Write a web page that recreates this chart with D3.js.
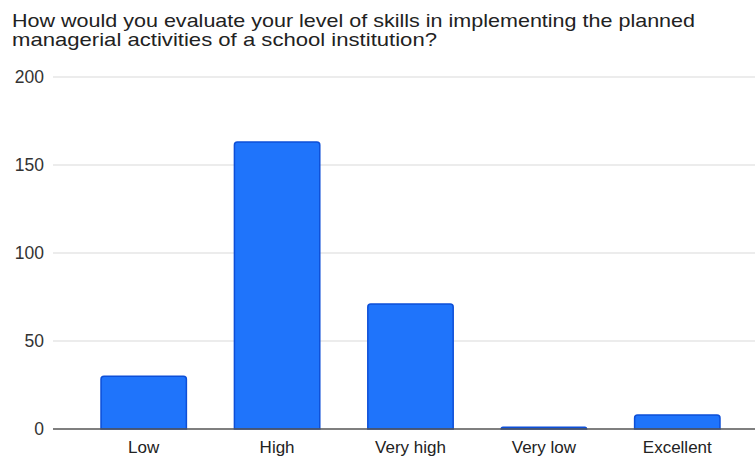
<!DOCTYPE html>
<html>
<head>
<meta charset="utf-8">
<script src="https://cdn.jsdelivr.net/npm/d3@7"></script>
<style>
  body { margin: 0; background: #fff; }
  text { font-family: "Liberation Sans", Arial, sans-serif; }
</style>
</head>
<body>
<script>
const categories = ["Low", "High", "Very high", "Very low", "Excellent"];
const counts = [30, 163, 71, 1, 8];
const yTicks = [0, 50, 100, 150, 200];
const titleLines = [
  "How would you evaluate your level of skills in implementing the planned",
  "managerial activities of a school institution?"
];
const titleWidths = [683, 425];

const w = 755, h = 460;
const svg = d3.select("body").append("svg")
  .attr("width", w)
  .attr("height", h);

// Title (stretched a little to match the source's wide lettering)
svg.append("g").selectAll("text")
  .data(titleLines)
  .enter()
  .append("text")
  .attr("x", 12)
  .attr("y", (d, i) => 27 + i * 19)
  .attr("font-size", 18.5)
  .attr("fill", "#222")
  .attr("textLength", (d, i) => titleWidths[i])
  .attr("lengthAdjust", "spacingAndGlyphs")
  .text(d => d);

const x = d3.scaleBand()
  .domain(categories)
  .range([77, 744])
  .paddingInner(0.36)
  .paddingOuter(0.18);

const y = d3.scaleLinear()
  .domain([0, 200])
  .range([429, 77]);

// Gridlines
svg.append("g").selectAll("line")
  .data(yTicks.slice(1))
  .enter()
  .append("line")
  .attr("x1", 53)
  .attr("x2", w)
  .attr("y1", d => y(d))
  .attr("y2", d => y(d))
  .attr("stroke", "#d9d9d9")
  .attr("stroke-width", 1);

// Y labels
svg.append("g").selectAll("text")
  .data(yTicks)
  .enter()
  .append("text")
  .attr("x", 44)
  .attr("y", d => y(d) + 6)
  .attr("text-anchor", "end")
  .attr("font-size", 17.5)
  .attr("fill", "#333")
  .text(d => d);

// Bars, rounded top corners
const r = 3;
svg.append("g").selectAll("path")
  .data(categories.map((c, i) => ({ c, v: counts[i] })))
  .enter()
  .append("path")
  .attr("d", d => {
    const x0 = x(d.c), x1 = x0 + x.bandwidth();
    const y0 = y(0), y1 = y(d.v);
    const rr = Math.min(r, (y0 - y1));
    return `M${x0},${y0} V${y1 + rr} Q${x0},${y1} ${x0 + rr},${y1} H${x1 - rr} Q${x1},${y1} ${x1},${y1 + rr} V${y0} Z`;
  })
  .attr("fill", "#1f74fb")
  .attr("stroke", "#0d4fd8")
  .attr("stroke-width", 1.5);

// Baseline
svg.append("line")
  .attr("x1", 53)
  .attr("x2", w)
  .attr("y1", y(0))
  .attr("y2", y(0))
  .attr("stroke", "#555")
  .attr("stroke-width", 1.5);

// X axis labels
svg.append("g").selectAll("text")
  .data(categories)
  .enter()
  .append("text")
  .attr("x", d => x(d) + x.bandwidth() / 2)
  .attr("y", 453)
  .attr("text-anchor", "middle")
  .attr("font-size", 17)
  .attr("fill", "#222")
  .text(d => d);
</script>
</body>
</html>
